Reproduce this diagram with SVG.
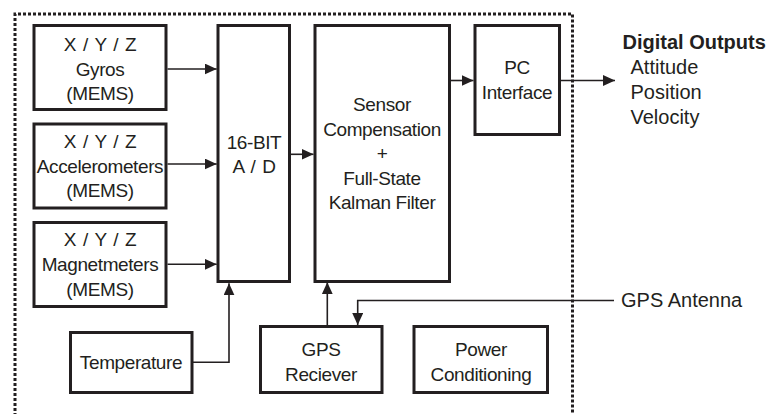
<svg xmlns="http://www.w3.org/2000/svg" width="769" height="414" viewBox="0 0 769 414">
<defs>
<style>
.box{fill:#fff;stroke:#231f20;stroke-width:3}
.t{font-family:"Liberation Sans",Arial,sans-serif;font-size:19px;letter-spacing:-0.4px;fill:#231f20;text-anchor:middle}
.xyz{word-spacing:2px}
.o{font-family:"Liberation Sans",Arial,sans-serif;font-size:20px;fill:#231f20}
.w{fill:none;stroke:#231f20;stroke-width:1.6}
.border{fill:none;stroke:#231f20;stroke-width:3;stroke-dasharray:3 2}
</style>
<marker id="ah" viewBox="0 0 12 11" refX="12" refY="5.5" markerWidth="12" markerHeight="11" markerUnits="userSpaceOnUse" orient="auto">
<path d="M0,0 L12,5.5 L0,11 Z" fill="#231f20"/>
</marker>
</defs>
<rect width="769" height="414" fill="#fff"/>
<path class="border" d="M15,416 V14 H572.5 V416"/>

<g id="gyros">
<rect class="box" x="34" y="25.5" width="132" height="84"/>
<text class="t xyz" x="100" y="51">X / Y / Z</text>
<text class="t" x="100" y="75.5">Gyros</text>
<text class="t" x="100" y="100">(MEMS)</text>
</g>
<g id="accelerometers">
<rect class="box" x="34" y="124" width="132" height="84"/>
<text class="t xyz" x="100" y="148.3">X / Y / Z</text>
<text class="t" x="100" y="172.5">Accelerometers</text>
<text class="t" x="100" y="196.7">(MEMS)</text>
</g>
<g id="magnetometers">
<rect class="box" x="34" y="222.5" width="132" height="84"/>
<text class="t xyz" x="100" y="245.7">X / Y / Z</text>
<text class="t" x="100" y="270.5">Magnetmeters</text>
<text class="t" x="100" y="295.7">(MEMS)</text>
</g>
<g id="ad">
<rect class="box" x="218" y="25.5" width="71.5" height="256"/>
<text class="t" x="254" y="149">16-BIT</text>
<text class="t xyz" x="254" y="173.3">A / D</text>
</g>
<g id="sensor">
<rect class="box" x="315" y="25.5" width="134.5" height="256"/>
<text class="t" x="382" y="111">Sensor</text>
<text class="t" x="382" y="135.5">Compensation</text>
<text class="t" x="382" y="160">+</text>
<text class="t" x="382" y="184.5">Full-State</text>
<text class="t" x="382" y="209">Kalman Filter</text>
</g>
<g id="pc">
<rect class="box" x="475" y="25.5" width="84.5" height="109"/>
<text class="t" x="517" y="74">PC</text>
<text class="t" x="517" y="99">Interface</text>
</g>
<g id="temperature">
<rect class="box" x="70.5" y="332.5" width="121.5" height="60"/>
<text class="t" x="131" y="369">Temperature</text>
</g>
<g id="gps">
<rect class="box" x="260.5" y="326.5" width="121.5" height="66"/>
<text class="t" x="321" y="356">GPS</text>
<text class="t" x="321" y="381">Reciever</text>
</g>
<g id="power">
<rect class="box" x="414" y="326.5" width="133.5" height="66"/>
<text class="t" x="481" y="356">Power</text>
<text class="t" x="481" y="381">Conditioning</text>
</g>
<g id="outputs">
<text class="o" x="622.5" y="49" font-weight="bold">Digital Outputs</text>
<text class="o" x="630.5" y="74">Attitude</text>
<text class="o" x="630.5" y="99">Position</text>
<text class="o" x="630.5" y="123.5">Velocity</text>
</g>
<g id="antenna">
<text class="o" x="621" y="307">GPS Antenna</text>
</g>

<g id="connectors">
<path class="w" d="M167.5,69 H216.7" marker-end="url(#ah)"/>
<path class="w" d="M167.5,164 H216.7" marker-end="url(#ah)"/>
<path class="w" d="M167.5,264.3 H216.7" marker-end="url(#ah)"/>
<path class="w" d="M291,154.3 H313.5" marker-end="url(#ah)"/>
<path class="w" d="M451,80.5 H473.5" marker-end="url(#ah)"/>
<path class="w" d="M561,80.5 H615" marker-end="url(#ah)"/>
<path class="w" d="M193,362.3 H229 V283.3" marker-end="url(#ah)"/>
<path class="w" d="M327.3,325 V282.3" marker-end="url(#ah)"/>
<path class="w" d="M614,300.5 H357.7 V325" marker-end="url(#ah)"/>
</g>
</svg>
